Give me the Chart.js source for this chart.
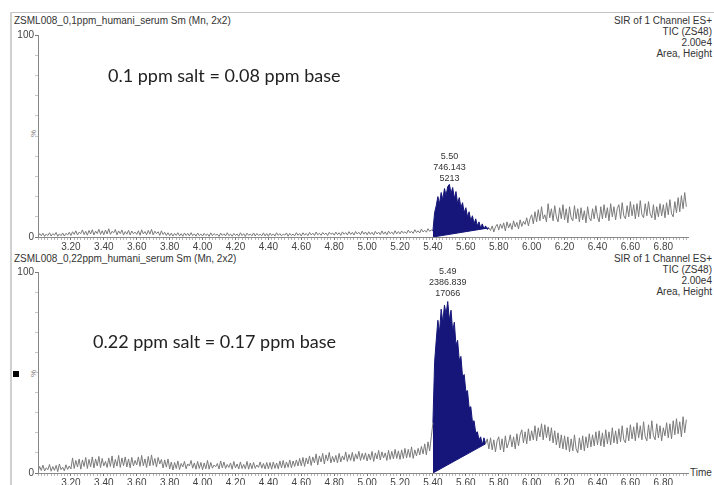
<!DOCTYPE html>
<html>
<head>
<meta charset="utf-8">
<script src="https://cdn.jsdelivr.net/npm/chart.js@4.4.1/dist/chart.umd.min.js"></script>
<style>
  body { margin: 0; background: #fff; width: 714px; height: 485px; overflow: hidden; position: relative;
         font-family: "Liberation Sans", Arial, sans-serif; }
  .frame-top { position: absolute; left: 11px; top: 12px; width: 703px; height: 1px; background: #c4c4c4; }
  .frame-left { position: absolute; left: 10px; top: 12px; width: 2px; height: 473px; background: #d0d0d0; }
  .hdr { position: absolute; font-size: 10px; line-height: 11px; color: #333; white-space: nowrap; }
  .hdr.right { right: 2px; text-align: right; }
  .note { position: absolute; font-family: Lato, "Open Sans", sans-serif; font-size: 18px; line-height: 20px; color: #222; white-space: nowrap; }
  .pct { position: absolute; font-size: 8px; color: #777; transform: rotate(-90deg); }
  .mark { position: absolute; left: 13px; top: 371px; width: 6px; height: 6px; background: #000; }
  canvas { position: absolute; left: 0; }
</style>
</head>
<body>
<div class="frame-top"></div>
<div class="frame-left"></div>

<div class="hdr" style="left:14px; top:15px;">ZSML008_0,1ppm_humani_serum Sm (Mn, 2x2)</div>
<div class="hdr right" style="top:15px;">SIR of 1 Channel ES+<br>TIC (ZS48)<br>2.00e4<br>Area, Height</div>
<div class="hdr" style="left:14px; top:253px;">ZSML008_0,22ppm_humani_serum Sm (Mn, 2x2)</div>
<div class="hdr right" style="top:253px;">SIR of 1 Channel ES+<br>TIC (ZS48)<br>2.00e4<br>Area, Height</div>
<div class="hdr" style="left:690px; top:467px;">Time</div>

<div class="pct" style="left:30px; top:129px;">%</div>
<div class="pct" style="left:30px; top:369px;">%</div>
<div class="mark"></div>

<canvas id="panelTop" width="714" height="255" style="top:0;"></canvas>
<canvas id="panelBottom" width="714" height="235" style="top:250px;"></canvas>

<div class="note" style="left:108px; top:65px;">0.1 ppm salt = 0.08 ppm base</div>
<div class="note" style="left:93px; top:331px;">0.22 ppm salt = 0.17 ppm base</div>

<script>
// scan time grid (min)
const scanStart = 3.00;
const scanStep = 0.01;

// SIR intensity, 0.1 ppm sample (one row = 0.20 min)
const serum01 = [
  80,330,120,380,60,290,150,420,90,340,180,450,70,310,130,400,100,360,200,470,
  150,520,260,610,200,480,330,700,240,560,180,650,300,720,210,580,340,760,260,620,
  230,690,300,820,260,560,410,740,220,600,330,700,190,540,280,660,210,590,320,480,
  260,620,180,710,300,540,220,650,280,760,200,580,330,520,160,610,240,470,150,420,
  120,380,90,350,160,420,110,330,70,400,150,360,100,430,130,310,80,390,140,300,
  90,360,140,300,70,410,120,340,180,280,60,390,150,320,100,420,130,290,80,350,
  150,300,80,420,140,330,60,380,170,290,110,400,90,350,160,270,120,410,100,340,
  70,380,140,310,90,420,160,340,110,290,180,400,80,360,150,300,120,430,170,350,
  100,420,190,350,130,460,210,380,150,490,220,360,170,450,240,390,140,470,260,400,
  180,480,230,420,160,510,270,440,200,530,250,460,190,550,300,470,220,580,280,500,
  210,520,260,470,190,560,300,480,240,600,280,510,220,580,330,490,260,620,310,540,
  300,600,380,520,330,680,420,560,360,720,450,610,400,780,500,660,470,820,560,700,
  600,2400,3100,4000,3300,4400,3700,4800,4100,5000,5213,4300,4900,3800,4500,3300,3900,2900,3400,2400,
  2900,2000,2500,1600,2100,1300,1800,1100,1500,900,1300,800,1100,750,900,650,1100,500,1000,1250,
  700,1300,850,1400,600,1500,900,1350,750,1600,1000,1450,800,1700,1050,1550,1250,1900,1100,1800,
  2200,1300,2500,1500,2700,1600,3000,1800,2200,1500,3300,1900,2800,1600,3100,2000,1500,2900,1800,3200,
  1700,2800,1400,3000,1900,1600,3100,1800,2800,1500,2900,1700,2600,1400,3000,1900,1600,2800,1800,3100,
  2000,1500,3000,1800,3200,1900,2900,1600,3300,2000,3000,1700,2800,3200,1800,3400,2100,1800,3100,2000,
  3500,2100,3200,1800,3300,2000,3600,2200,1900,3300,2100,3500,2300,1900,3200,1700,3000,2000,3300,2100,
  3200,1900,3400,2200,3700,2300,2000,3500,2400,3900,2500,4100,2800,4400,3000
];

// SIR intensity, 0.22 ppm sample
const serum022 = [
  150,650,250,780,200,520,320,850,180,640,260,760,140,900,330,580,210,820,350,700,
  400,1500,450,1250,600,1400,380,1300,650,1550,450,1350,620,1600,500,1400,700,1650,550,1450,
  700,1150,550,1500,650,1700,500,1350,680,1750,560,1500,720,1600,600,1400,520,1550,700,1250,
  800,1600,650,1750,720,1400,550,1650,700,1800,760,1450,600,1550,900,1350,500,1300,580,1400,
  400,1100,300,1050,450,1200,350,950,600,1150,420,900,700,1250,480,1000,380,1150,450,1050,
  330,1000,420,1250,380,1050,480,800,620,950,400,1200,500,1100,450,850,550,1000,380,1150,
  500,900,400,1100,450,850,420,1150,380,1000,420,1050,460,800,560,1100,480,950,400,1050,
  420,1050,380,1100,460,1000,420,1200,500,1250,480,1100,560,1300,520,1200,650,1300,700,1450,
  700,1550,650,1500,900,1700,750,1600,1000,1900,800,1700,1100,1950,900,1800,1200,2050,1000,1650,
  1100,1750,1000,1950,1100,1700,1300,2100,1150,1850,1250,2050,1150,1900,1400,2150,1250,1950,1350,2000,
  1200,1900,1300,2150,1150,2000,1400,2250,1300,2100,1500,2000,1250,2250,1350,2150,1400,2350,1450,2200,
  1350,2300,1450,2450,1500,2350,1550,2600,1450,2300,1700,2450,1800,2650,1900,2900,1800,3100,2200,3600,
  5000,11000,13200,15200,14000,16300,15000,16700,15800,17066,15200,16200,14100,15000,12700,13200,11200,11600,9600,9800,
  8100,8200,6500,6600,5100,5200,4000,4100,3300,3600,2800,3500,2900,3400,2400,3500,2300,3300,2100,3200,
  3600,2300,3400,2100,3700,2500,3000,3800,2600,3600,2400,3900,2700,3800,4300,3000,4100,2900,4400,3200,
  4200,3300,4700,3200,4500,3600,4900,3300,4800,3500,4600,3200,4500,3000,4200,2800,4000,2500,3800,2400,
  3700,2300,3600,2100,3400,2200,3800,2400,2000,3500,2300,3700,2200,3600,2500,3900,2600,3800,2700,4100,
  2800,4200,2700,4000,2600,4300,2900,4100,2800,4500,3000,4200,2900,4400,3100,4700,3300,3000,4500,3200,
  4800,3400,4600,3200,5000,3500,4700,3300,5100,3600,3200,4800,3400,5200,3700,3300,4900,3500,4700,3200,
  4500,3700,5000,3500,4900,3400,5200,3800,5400,3900,5100,3600,5600,4000,5300
];

const xTickLabels = ['3.20','3.40','3.60','3.80','4.00','4.20','4.40','4.60','4.80','5.00',
                     '5.20','5.40','5.60','5.80','6.00','6.20','6.40','6.60','6.80'];
const fullScale = 20000; // 2.00e4

// integrated peak: retention time, area, height, integration limits
const peakRT = [5.50, 5.49];
const peakArea = ['746.143', '2386.839'];
const peakHeight = [5213, 17066];
const peakStart = [5.40, 5.40];
const peakEnd = [5.74, 5.72];

const NAVY = '#16167a';
const TRACE = '#7a7a7a';

function timeAt(k) { return +(scanStart + k * scanStep).toFixed(2); }

// peak apex label (RT / area / height) above the apex
const peakLabelPlugin = {
  id: 'peakLabel',
  afterDatasetsDraw(chart, args, opts) {
    const x = chart.scales.x.getPixelForValue(opts.rt);
    const y = chart.scales.y.getPixelForValue(opts.height);
    const ctx = chart.ctx;
    ctx.save();
    ctx.font = '9px "Liberation Sans", Arial, sans-serif';
    ctx.fillStyle = '#333';
    ctx.textAlign = 'center';
    ctx.textBaseline = 'middle';
    const lines = [opts.rt.toFixed(2), opts.area, String(opts.height)];
    lines.forEach((s, i) => ctx.fillText(s, x, y - opts.gap - (lines.length - 1 - i) * 11));
    ctx.restore();
  }
};

function makePanel(id, values, n, padTop, axisHeight, gap) {
  const trace = values.map((v, k) => ({ x: timeAt(k), y: v }));
  const s = peakStart[n], e = peakEnd[n];
  const peak = trace.filter(p => p.x >= s - 1e-6 && p.x <= e + 1e-6);
  const endVal = peak[peak.length - 1].y;
  const baseline = [{ x: s, y: 0 }, { x: e, y: endVal }];

  return new Chart(document.getElementById(id), {
    type: 'line',
    data: {
      datasets: [
        {
          data: trace, borderWidth: 1, pointRadius: 0, fill: false, borderColor: TRACE,
          segment: {
            borderColor: c => (c.p0.parsed.x >= s - 1e-6 && c.p1.parsed.x <= e + 1e-6) ? NAVY : TRACE
          }
        },
        { data: peak, borderWidth: 0, pointRadius: 0, fill: '+1', backgroundColor: NAVY, borderColor: NAVY },
        { data: baseline, borderWidth: 1, pointRadius: 0, fill: false, borderColor: NAVY }
      ]
    },
    options: {
      responsive: false,
      animation: false,
      devicePixelRatio: 1,
      layout: { padding: { top: padTop, right: 26, left: 0, bottom: 0 } },
      plugins: {
        legend: { display: false },
        tooltip: { enabled: false },
        peakLabel: { rt: peakRT[n], area: peakArea[n], height: peakHeight[n], gap: gap }
      },
      scales: {
        x: {
          type: 'linear', min: 3.00, max: 6.95,
          afterFit: sc => { sc.height = axisHeight; },
          afterBuildTicks: sc => {
            const t = [];
            for (let v = 3.00; v <= 6.945; v += 0.02) t.push({ value: +v.toFixed(2) });
            sc.ticks = t;
          },
          border: { color: '#888', width: 1 },
          grid: {
            drawOnChartArea: false, tickLength: 3,
            tickColor: c => xTickLabels.includes(c.tick.value.toFixed(2)) ? '#777' : '#b5b5b5'
          },
          ticks: {
            autoSkip: false, maxRotation: 0, padding: 1, color: '#444',
            font: { family: '"Liberation Sans", Arial, sans-serif', size: 10 },
            callback: v => { const l = v.toFixed(2); return xTickLabels.includes(l) ? l : ''; }
          }
        },
        y: {
          min: 0, max: fullScale,
          afterFit: sc => { sc.width = 38; },
          border: { color: '#888', width: 1 },
          grid: {
            drawOnChartArea: false, tickLength: 3,
            tickColor: c => (c.tick.value === 0 || c.tick.value === fullScale) ? '#777' : '#c8c8c8'
          },
          ticks: {
            stepSize: 2000, padding: 1, color: '#444',
            font: { family: '"Liberation Sans", Arial, sans-serif', size: 10 },
            callback: v => v === 0 ? '0' : (v === fullScale ? '100' : '')
          }
        }
      }
    },
    plugins: [peakLabelPlugin]
  });
}

window.onload = function() {
  makePanel('panelTop', serum01, 0, 35, 18, 6);
  makePanel('panelBottom', serum022, 1, 22, 12, 8);
};
</script>
</body>
</html>
